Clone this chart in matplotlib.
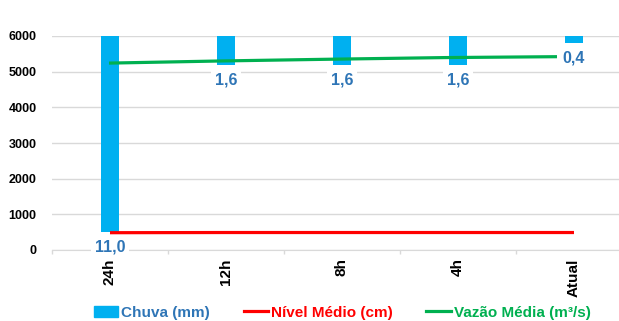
import matplotlib
matplotlib.use("Agg")
import matplotlib.pyplot as plt
from matplotlib.patches import Patch
from matplotlib.lines import Line2D
import numpy as np

plt.rcParams["font.family"] = ["Liberation Sans", "DejaVu Sans"]
plt.rcParams["font.weight"] = "bold"

# dados
categorias = ["24h", "12h", "8h", "4h", "Atual"]
chuva = [11.0, 1.6, 1.6, 1.6, 0.4]            # mm (eixo secundario invertido)
nivel = [485, 490, 490, 490, 490]             # cm
vazao = [5240, 5300, 5350, 5395, 5420]        # m3/s
yticks = [0, 1000, 2000, 3000, 4000, 5000, 6000]

azul = "#00B0F0"
azul_txt = "#2E75B6"
vermelho = "#FF0000"
verde = "#00B050"
cinza = "#D9D9D9"

fig = plt.figure(figsize=(6.19, 3.21), dpi=100)
ax = fig.add_axes([52 / 619, 71 / 321, 567 / 619, 214 / 321])
x = np.arange(len(categorias))

# eixo principal: grade, ticks
ax.set_xlim(-0.5, 4.388)
ax.set_ylim(0, 6000)
ax.set_yticks(yticks)
ax.set_yticklabels([str(v) for v in yticks], fontsize=9, fontweight="bold")
ax.yaxis.grid(True, color=cinza, linewidth=1)
ax.set_axisbelow(True)
for s in ["top", "right", "left"]:
    ax.spines[s].set_visible(False)
ax.spines["bottom"].set_color(cinza)
ax.tick_params(axis="y", length=0, pad=11)
ax.set_xticks(x)
ax.set_xticklabels(categorias, rotation=90, fontsize=11, fontweight="bold")
ax.set_xticks(np.arange(len(categorias)) - 0.5, minor=True)
ax.tick_params(axis="x", which="major", length=0, pad=6)
ax.tick_params(axis="x", which="minor", length=3, color=cinza, width=1)

# chuva: barras penduradas no topo
ax2 = ax.twinx()
ax2.set_ylim(12, 0)
ax2.bar(x, chuva, width=0.16, color=azul, zorder=2)
ax2.set_yticks([])
for s in ax2.spines.values():
    s.set_visible(False)
for xi, v in zip(x, chuva):
    ax2.annotate(f"{v:.1f}".replace(".", ","), (xi, v), xytext=(0, -11),
                 textcoords="offset points", ha="center", va="center",
                 fontsize=11.5, fontweight="bold", color=azul_txt, zorder=5,
                 bbox=dict(boxstyle="square,pad=0.25", fc="white", ec="none"))

# nivel medio
ax3 = ax.twinx()
ax3.set_ylim(0, 6000)
ax3.plot(x, nivel, color=vermelho, linewidth=2.3, solid_capstyle="butt")
ax3.set_yticks([])
for s in ax3.spines.values():
    s.set_visible(False)

# vazao media
ax4 = ax3.twiny()
ax4.set_xlim(-57 / 112, 510 / 112)
ax4.plot(x, vazao, color=verde, linewidth=2.3, solid_capstyle="butt")
ax4.set_xticks([])
for s in ax4.spines.values():
    s.set_visible(False)

handles = [Patch(color=azul),
           Line2D([0], [0], color=vermelho, linewidth=2.3),
           Line2D([0], [0], color=verde, linewidth=2.3)]
labels = ["Chuva (mm)", "Nível Médio (cm)", "Vazão Média (m³/s)"]
fig.legend(handles, labels, loc="center", bbox_to_anchor=(0.553, 0.026),
           ncol=3, frameon=False, handlelength=1.6, handletextpad=0.2,
           columnspacing=2.2, labelcolor=[azul_txt, vermelho, verde],
           prop={"size": 11, "weight": "bold"})

fig.savefig("out.png", dpi=100)
